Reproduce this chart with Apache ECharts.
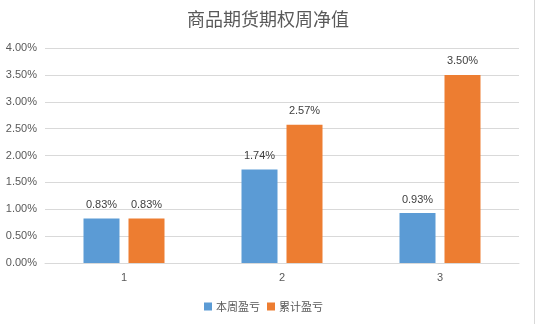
<!DOCTYPE html>
<html><head><meta charset="utf-8">
<script src="https://cdn.jsdelivr.net/npm/echarts@6/dist/echarts.min.js"></script>
<style>html,body{margin:0;padding:0;background:#fff}#c{width:536px;height:324px}</style>
</head><body><div id="c"></div>
<script>
const titleText = '商品期货期权周净值';
const categories = ['1', '2', '3'];
const seriesNames = ['本周盈亏', '累计盈亏'];
const weekly = [0.83, 1.74, 0.93];
const cumulative = [0.83, 2.57, 3.50];
const colors = ['#5b9bd5', '#ed7d31'];

const chart = echarts.init(document.getElementById('c'), null, {renderer: 'canvas'});
const lbl = {
  show: true, position: 'top', distance: 8,
  color: '#404040', fontSize: 11, fontFamily: 'Liberation Sans, Arial, sans-serif',
  formatter: p => p.value.toFixed(2) + '%'
};
chart.setOption({
  animation: false,
  backgroundColor: '#fff',
  title: {
    text: titleText, left: 'center', top: 5,
    textStyle: {fontSize: 18, fontWeight: 'normal', color: '#595959', fontFamily: 'Noto Sans CJK SC'}
  },
  legend: {
    data: seriesNames, top: 296, left: 199,
    itemWidth: 8, itemHeight: 8, itemGap: 7, icon: 'rect',
    textStyle: {fontSize: 11, color: '#595959', fontFamily: 'Noto Sans CJK SC', padding: [0,0,0,-1]}
  },
  grid: {left: 45, right: 17, top: 48, bottom: 61, containLabel: false},
  xAxis: {
    type: 'category', data: categories,
    axisLine: {lineStyle: {color: '#d9d9d9'}},
    axisTick: {show: false},
    axisLabel: {color: '#595959', fontSize: 11, margin: 9, fontFamily: 'Liberation Sans, Arial, sans-serif'}
  },
  yAxis: {
    type: 'value', min: 0, max: 4, interval: 0.5,
    axisLine: {show: false}, axisTick: {show: false},
    splitLine: {lineStyle: {color: '#d9d9d9'}},
    axisLabel: {color: '#595959', fontSize: 11, margin: 8, fontFamily: 'Liberation Sans, Arial, sans-serif',
      formatter: v => v.toFixed(2) + '%'}
  },
  graphic: [{
    type: 'line', shape: {x1: 534.5, y1: 0, x2: 534.5, y2: 324},
    style: {stroke: '#d9d9d9', lineWidth: 1}
  }],
  series: [
    {name: seriesNames[0], type: 'bar', data: weekly, barWidth: 36, barGap: '25%',
     itemStyle: {color: colors[0]}, label: lbl},
    {name: seriesNames[1], type: 'bar', data: cumulative, barWidth: 36, barGap: '25%',
     itemStyle: {color: colors[1]}, label: lbl}
  ]
});
</script>
</body></html>
